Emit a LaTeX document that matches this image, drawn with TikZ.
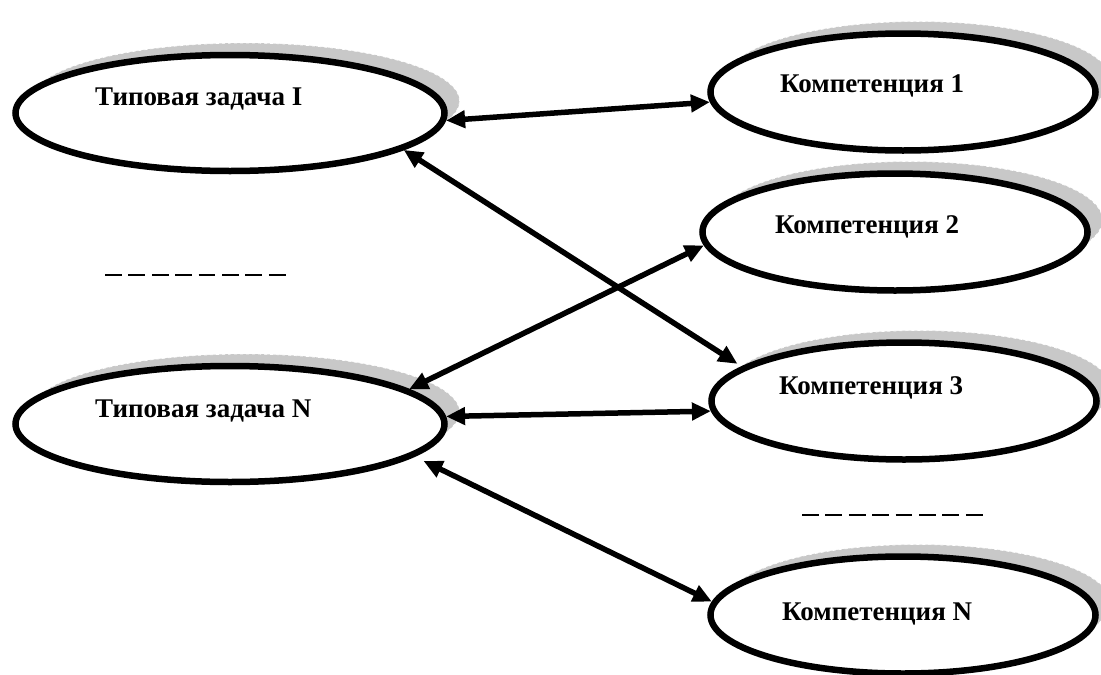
\documentclass[tikz,border=0pt]{standalone}
\usepackage{fontspec}
\setmainfont{Liberation Serif}
\usetikzlibrary{shapes.geometric,arrows.meta,shadows}
\definecolor{shadowgray}{RGB}{200,200,200}
\begin{document}
\begin{tikzpicture}[x=1pt,y=-1pt,
  oval/.style={ellipse, draw=black, line width=6.5pt, fill=white, inner sep=0pt,
    general shadow={shadow xshift=15pt, shadow yshift=12pt, fill=shadowgray,
      draw=white, dashed, line width=0.7pt}},
  leftoval/.style={oval, minimum width=429pt, minimum height=116pt},
  rightoval/.style={oval, minimum width=385pt, minimum height=117pt},
  lbl/.style={anchor=base west, inner sep=0pt, font=\bfseries\fontsize{27}{32}\selectfont},
  conn/.style={line width=5.5pt, {Triangle[length=19pt,width=17pt]}-{Triangle[length=19pt,width=17pt]}},
  dots/.style={line width=2pt, dash pattern=on 16.7pt off 6.7pt}]
\useasboundingbox (0,0) rectangle (1101,675);
\clip (0,0) rectangle (1101,675);
% ellipses
\node[leftoval] (EI) at (230,113) {};
\node[leftoval] (EN) at (230,424) {};
\node[rightoval] (C1) at (903,92) {};
\node[rightoval] (C2) at (895,232) {};
\node[rightoval] (C3) at (904,401) {};
\node[rightoval] (CN) at (903,615) {};
% labels
\node[lbl] (tEI) at (95,105) {Типовая задача I};
\node[lbl] (tEN) at (95,417) {Типовая задача N};
\node[lbl] (tC1) at (780,92) {Компетенция 1};
\node[lbl] (tC2) at (775,233) {Компетенция 2};
\node[lbl] (tC3) at (779,394) {Компетенция 3};
\node[lbl] (tCN) at (782,620) {Компетенция N};
% connectors
\draw[conn] (EI.-2.6) -- (C1.183);
\draw[conn, shorten >=5pt] (EI.-12.3) -- (C3.168.4);
\draw[conn] (EN.11.3) -- (C2.184.5);
\draw[conn] (EN.2.9) -- (C3.183.5);
\draw[conn, shorten <=10pt] (EN.-10.2) -- (CN.176.4);
% ellipsis dashes
\coordinate (d1a) at (105,275);
\coordinate (d1b) at (290,275);
\coordinate (d2a) at (802,515);
\coordinate (d2b) at (987,515);
\draw[dots] (d1a) -- (d1b);
\draw[dots] (d2a) -- (d2b);
\end{tikzpicture}
\end{document}
